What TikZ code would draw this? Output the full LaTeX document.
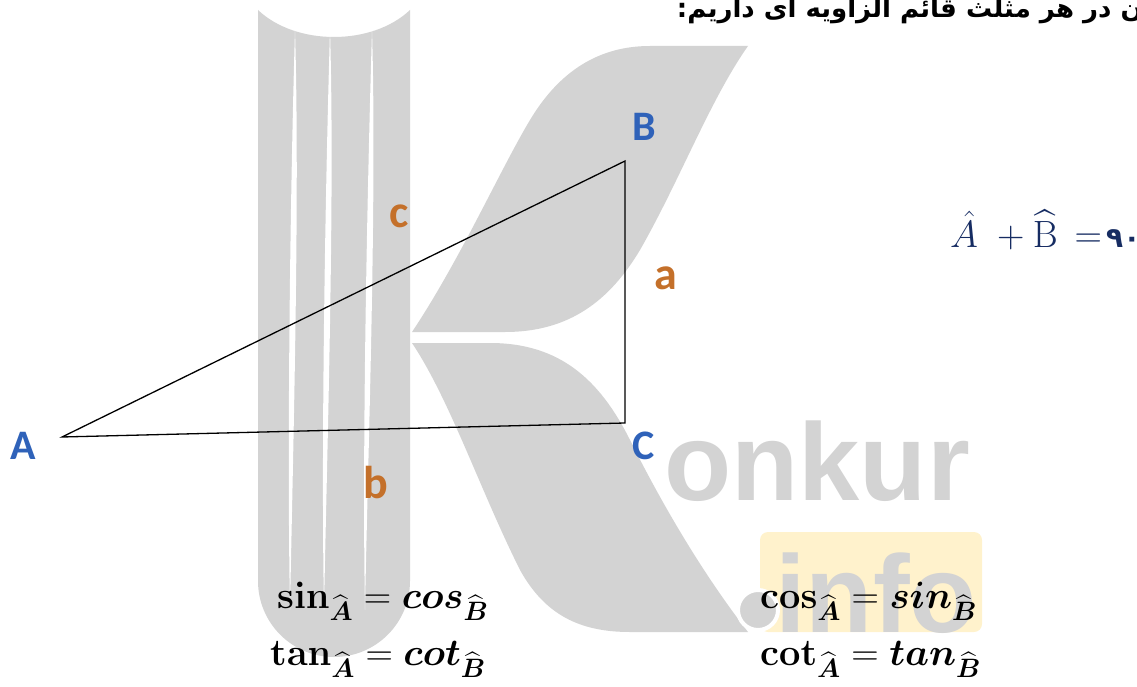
\RequirePackage{fix-cm}
\documentclass[tikz,border=0pt]{standalone}
\usepackage{xcolor}
\usepackage{amsmath}
\usepackage{amssymb}
\usepackage[no-math]{fontspec}
\setmainfont{Carlito}
\newfontfamily\wmfont{Liberation Sans}
\newfontfamily\farsi[Script=Arabic]{DejaVu Sans}
\TeXXeTstate=1
\definecolor{wmgray}{RGB}{211,211,211}
\definecolor{wmyellow}{RGB}{255,242,204}
\definecolor{vblue}{RGB}{47,98,185}
\definecolor{sorange}{RGB}{196,112,42}
\definecolor{navy}{RGB}{22,44,98}

\begin{document}
\begin{tikzpicture}[x=1pt,y=-1pt,
    vertex/.style={text=vblue,font=\fontsize{42}{42}\selectfont\bfseries,inner sep=0},
    side/.style={text=sorange,font=\fontsize{46}{46}\selectfont\bfseries,inner sep=0},
    rule/.style={font=\fontsize{38}{38}\selectfont,anchor=base west,inner sep=0}]
    \useasboundingbox (0,0) rectangle (1137,687);

    % watermark
    \fill[wmgray] (258,10) -- (258,581) arc[start angle=180,end angle=0,radius=76] -- (410,10) .. controls (372,46) and (296,46) .. (258,10);
    \foreach \xa/\xb in {295/290,330/324,372/365}
        \fill[white] (\xa,30) .. controls (\xa+5,200) and (\xb+3,450) .. (\xb,610) .. controls (\xb-3,450) and (\xa-5,200) .. (\xa,30);
    \fill[wmgray] (412,332) .. controls (460,260) and (500,170) .. (530,120) .. controls (560,70) and (600,46) .. (650,46) -- (748,46) .. controls (710,100) and (680,180) .. (640,250) .. controls (610,300) and (570,332) .. (505,332) -- cycle;
    \fill[wmgray] (412,343) .. controls (450,400) and (480,490) .. (520,570) .. controls (545,615) and (580,632) .. (630,632) -- (748,632) .. controls (700,570) and (660,500) .. (630,440) .. controls (600,380) and (560,343) .. (490,343) -- cycle;
    \node[anchor=base west,inner sep=0,text=wmgray,font=\wmfont\bfseries\fontsize{110}{110}\selectfont] (onkur) at (664,500) {onkur};
    \fill[wmyellow,rounded corners=8] (760,532) rectangle (982,632);
    \node[anchor=base west,inner sep=0,text=wmgray,font=\wmfont\bfseries\fontsize{110}{110}\selectfont] (info) at (775,632) {info};
    \fill[wmgray,draw=white,line width=4] (758,610) circle[radius=20];

    % title
    \node[anchor=base east,inner sep=0,font=\farsi\bfseries\fontsize{26}{26}\selectfont] (title) at (1143,18) {\beginR ن در هر مثلث قائم الزاویه ای داریم:\endR};

    % triangle
    \coordinate (A) at (62,437);
    \coordinate (B) at (625,161);
    \coordinate (C) at (625,423);
    \draw[line width=1.3] (A) -- (B) -- (C) -- cycle;

    \node[vertex] (labA) at (23,446) {A};
    \node[vertex] (labB) at (644,127) {B};
    \node[vertex] (labC) at (644,446) {C};
    \node[side] (laba) at (666,278) {a};
    \node[side] (labb) at (376,483) {b};
    \node[side] (labc) at (399,216) {c};

    % relations
    \node[anchor=base west,inner sep=0,text=navy,font=\fontsize{38}{38}\selectfont] (sum) at (950,247) {$\hat{A}\;+\widehat{\mathrm{B}}\,=\!\text{\farsi\bfseries\fontsize{28}{28}\selectfont ۹۰}$};
    \node[rule] (sinA) at (277,608) {$\mathbf{sin}_{\widehat{\boldsymbol{A}}}=\boldsymbol{cos}_{\widehat{\boldsymbol{B}}}$};
    \node[rule] (tanA) at (270,665) {$\mathbf{tan}_{\widehat{\boldsymbol{A}}}=\boldsymbol{cot}_{\widehat{\boldsymbol{B}}}$};
    \node[rule] (cosA) at (760,608) {$\mathbf{cos}_{\widehat{\boldsymbol{A}}}=\boldsymbol{sin}_{\widehat{\boldsymbol{B}}}$};
    \node[rule] (cotA) at (760,665) {$\mathbf{cot}_{\widehat{\boldsymbol{A}}}=\boldsymbol{tan}_{\widehat{\boldsymbol{B}}}$};
\end{tikzpicture}
\end{document}
